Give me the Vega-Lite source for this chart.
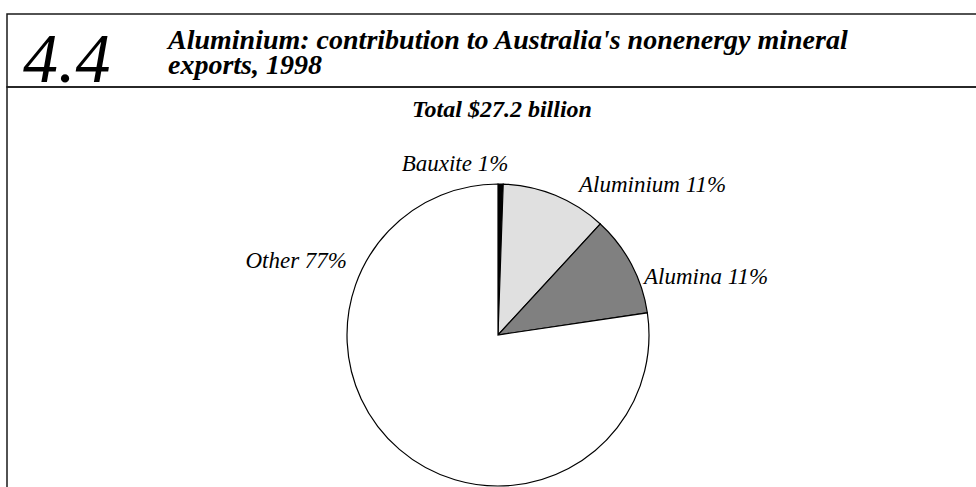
{
  "$schema": "https://vega.github.io/schema/vega-lite/v6.json",
  "background": "white",
  "autosize": {"type": "none"},
  "padding": {"left": 7, "top": 14, "right": 969, "bottom": 473},
  "spacing": 0,
  "bounds": "flush",
  "title": {"text": "4.4", "orient": "bottom", "anchor": "start", "frame": "group", "font": "Liberation Serif", "fontSize": 70, "fontStyle": "italic", "fontWeight": "normal", "color": "black", "baseline": "alphabetic", "offset": -502, "dx": 16},
  "config": {
    "text": {"font": "Liberation Serif"}
  },
  "vconcat": [
    {
      "width": 982,
      "height": 73,
      "view": {"stroke": "#1a1a1a", "strokeWidth": 1.5},
      "title": {"text": ["Aluminium: contribution to Australia's nonenergy mineral", "exports, 1998"], "orient": "bottom", "anchor": "start", "frame": "group", "font": "Liberation Serif", "fontSize": 28, "fontStyle": "italic", "fontWeight": "bold", "lineHeight": 24.5, "color": "black", "baseline": "alphabetic", "offset": -38, "dx": 161},
      "data": {"values": [{}]},
      "mark": {"type": "text"},
      "encoding": {"text": {"value": ""}}
    },
    {
      "width": 982,
      "height": 496,
      "view": {"stroke": "#1a1a1a", "strokeWidth": 1.5},
      "title": {"text": "Total $27.2 billion", "orient": "bottom", "anchor": "middle", "frame": "group", "font": "Liberation Serif", "fontSize": 24, "fontStyle": "italic", "fontWeight": "bold", "color": "black", "baseline": "alphabetic", "offset": -466, "dx": 4},
      "data": {"values": [
        {"part": "Bauxite", "share": 0.55, "label": "Bauxite 1%", "rank": 1},
        {"part": "Aluminium", "share": 11.3, "label": "Aluminium 11%", "rank": 2},
        {"part": "Alumina", "share": 10.8, "label": "Alumina 11%", "rank": 3},
        {"part": "Other", "share": 77.35, "label": "Other 77%", "rank": 4}
      ]},
      "layer": [
        {
          "mark": {"type": "arc", "radius": 151, "stroke": "black", "strokeWidth": 1.2},
          "encoding": {
            "theta": {"field": "share", "type": "quantitative", "stack": true},
            "order": {"field": "rank", "type": "quantitative"},
            "color": {"field": "part", "type": "nominal", "legend": null,
              "scale": {"domain": ["Bauxite", "Aluminium", "Alumina", "Other"], "range": ["#000000", "#e0e0e0", "#808080", "#ffffff"]}}
          }
        },
        {
          "transform": [{"filter": {"field": "part", "equal": "Bauxite"}}],
          "mark": {"type": "text", "theta": -0.2566, "radius": 169.5, "align": "center", "baseline": "alphabetic", "fontSize": 23, "fontStyle": "italic", "color": "black"},
          "encoding": {"text": {"field": "label"}}
        },
        {
          "transform": [{"filter": {"field": "part", "equal": "Aluminium"}}],
          "mark": {"type": "text", "theta": 0.5154, "radius": 164.3, "align": "left", "baseline": "alphabetic", "fontSize": 23, "fontStyle": "italic", "color": "black"},
          "encoding": {"text": {"field": "label"}}
        },
        {
          "transform": [{"filter": {"field": "part", "equal": "Alumina"}}],
          "mark": {"type": "text", "theta": 1.2348, "radius": 154.7, "align": "left", "baseline": "alphabetic", "fontSize": 23, "fontStyle": "italic", "color": "black"},
          "encoding": {"text": {"field": "label"}}
        },
        {
          "transform": [{"filter": {"field": "part", "equal": "Other"}}],
          "mark": {"type": "text", "theta": -1.1531, "radius": 165.2, "align": "right", "baseline": "alphabetic", "fontSize": 23, "fontStyle": "italic", "color": "black"},
          "encoding": {"text": {"field": "label"}}
        }
      ]
    }
  ]
}
